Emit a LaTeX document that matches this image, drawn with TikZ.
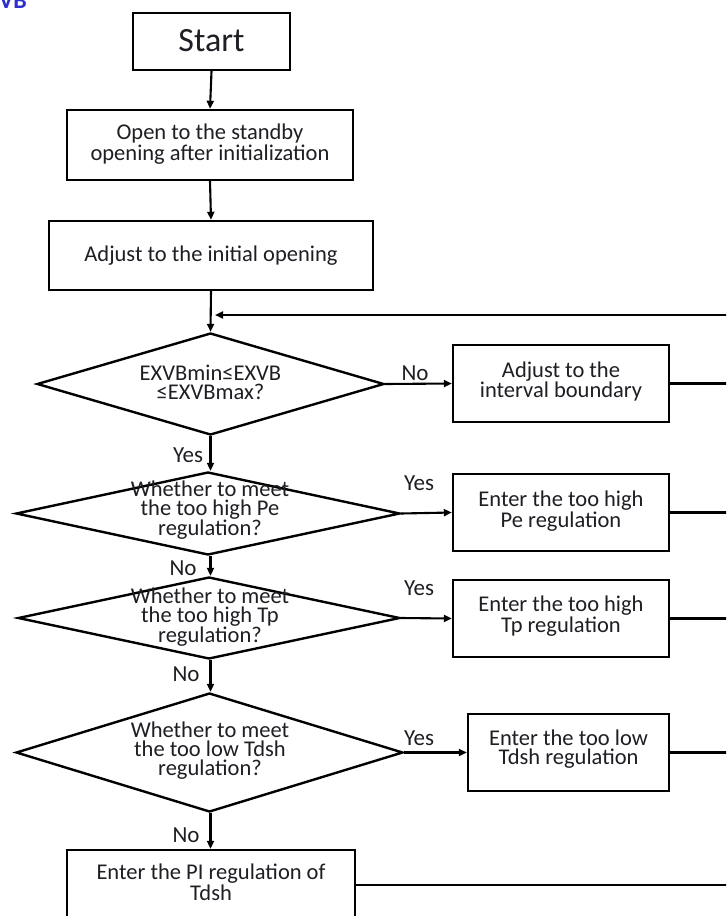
\documentclass[tikz,border=0pt]{standalone}
\usepackage{fontspec}
\setmainfont{Carlito}
\usetikzlibrary{shapes.geometric,arrows.meta}
\definecolor{txtc}{HTML}{1E1E24}
\definecolor{titleblue}{HTML}{2E2ED0}
\begin{document}
\begin{tikzpicture}[x=1pt,y=-1pt,
  box/.style={draw=black,line width=2.4pt,rectangle,inner sep=0pt},
  dia/.style={draw=black,line width=2.4pt,diamond,inner sep=0pt},
  txt/.style={text=txtc,align=center,inner sep=0pt,font=\fontsize{22.5}{19}\selectfont},
  lbl/.style={text=txtc,inner sep=0pt,font=\fontsize{23}{23}\selectfont},
  arr/.style={line width=2.1pt,-{Triangle[length=8pt,width=7pt]}},
  ln/.style={line width=2.1pt}]
\clip (0,0) rectangle (726,916);
\fill[white] (0,0) rectangle (726,916);
% title fragment
\node[anchor=base west,inner sep=0pt,text=titleblue,font=\fontsize{24}{24}\selectfont\bfseries] (title) at (-1,8) {VB};
% main column
\node[box,minimum width=157,minimum height=57] (start) at (211.5,41.5) {};
\node[txt,font=\fontsize{34}{34}\selectfont] (startT) at (211.5,41) {Start};
\node[box,minimum width=286,minimum height=70] (open) at (210,145) {};
\node[txt] (openT) at (210,144) {Open to the standby\\opening after initialization};
\node[box,minimum width=324,minimum height=69] (adj) at (211,255.5) {};
\node[txt] (adjT) at (211,256) {Adjust to the initial opening};
\node[dia,minimum width=347,minimum height=102] (d1) at (210.5,384) {};
\node[txt] (d1T) at (210.5,382.5) {EXVBmin≤EXVB\\≤EXVBmax?};
\node[dia,minimum width=384,minimum height=83] (d2) at (208,513.5) {};
\node[txt] (d2T) at (210,510) {Whether to meet\\the too high Pe\\regulation?};
\node[dia,minimum width=382,minimum height=82] (d3) at (209,618) {};
\node[txt] (d3T) at (210,617) {Whether to meet\\the too high Tp\\regulation?};
\node[dia,minimum width=387,minimum height=119] (d4) at (209.5,752.5) {};
\node[txt] (d4T) at (210,751) {Whether to meet\\the too low Tdsh\\regulation?};
\node[box,minimum width=288,minimum height=100] (pi) at (211,900) {};
\node[txt] (piT) at (211,882.5) {Enter the PI regulation of\\Tdsh};
% right column
\node[box,minimum width=216,minimum height=77] (bnd) at (561,383.5) {};
\node[txt] (bndT) at (561,381.5) {Adjust to the\\interval boundary};
\node[box,minimum width=216,minimum height=77] (pe) at (561,512.5) {};
\node[txt] (peT) at (561,511) {Enter the too high\\Pe regulation};
\node[box,minimum width=216,minimum height=77] (tp) at (561,618.5) {};
\node[txt] (tpT) at (561,616) {Enter the too high\\Tp regulation};
\node[box,minimum width=201,minimum height=77] (td) at (568.5,752.5) {};
\node[txt] (tdT) at (568.5,749) {Enter the too low\\Tdsh regulation};
% edge coordinates
\coordinate (eA) at (730,315);
\coordinate (tipA) at (215,315);
\coordinate (e1) at (730,383.5);
\coordinate (e2) at (730,512.5);
\coordinate (e3) at (730,618.5);
\coordinate (e4) at (730,752.5);
\coordinate (e5) at (730,885);
% connectors
\draw[arr] (start.south) -- (open.north);
\draw[arr] (open.south) -- (adj.north);
\draw[arr] (adj.south) -- (d1.north);
\draw[arr] (eA) -- (tipA);
\draw[arr] (d1.east) -- (bnd.west);
\draw[arr] (d1.south) -- (d1.south |- d2.north);
\draw[arr] (d2.east) -- (pe.west);
\draw[arr] (d2.south -| d1.south) -- (d1.south |- d3.north);
\draw[arr] (d3.east) -- (tp.west);
\draw[arr] (d3.south -| d1.south) -- (d1.south |- d4.north);
\draw[arr] (d4.east) -- (td.west);
\draw[arr] (d4.south -| d1.south) -- (d1.south |- pi.north);
\draw[ln] (bnd.east) -- (e1);
\draw[ln] (pe.east) -- (e2);
\draw[ln] (tp.east) -- (e3);
\draw[ln] (td.east) -- (e4);
\draw[ln] (pi.east |- e5) -- (e5);
% labels
\node[lbl] (l1) at (415,373) {No};
\node[lbl] (l2) at (188,455) {Yes};
\node[lbl] (l3) at (419,483) {Yes};
\node[lbl] (l4) at (183,568) {No};
\node[lbl] (l5) at (419,588) {Yes};
\node[lbl] (l6) at (186,674) {No};
\node[lbl] (l7) at (419,738) {Yes};
\node[lbl] (l8) at (186,835) {No};
\end{tikzpicture}
\end{document}
